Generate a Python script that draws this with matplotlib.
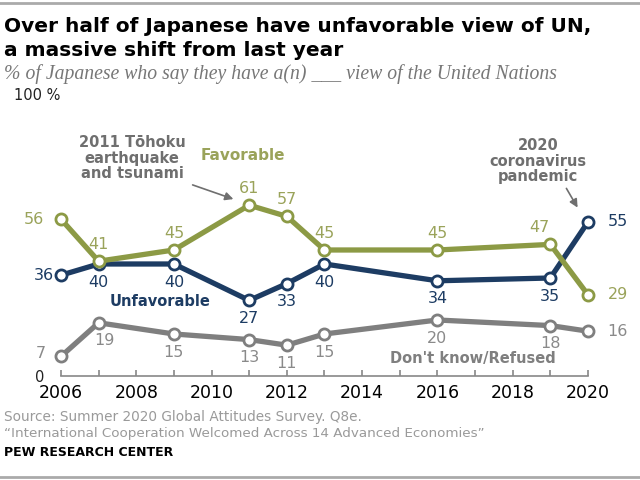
import matplotlib
matplotlib.use("Agg")
import matplotlib.pyplot as plt
from matplotlib.ticker import MultipleLocator

years = [2006, 2007, 2009, 2011, 2012, 2013, 2016, 2019, 2020]
favorable = [56, 41, 45, 61, 57, 45, 45, 47, 29]
unfavorable = [36, 40, 40, 27, 33, 40, 34, 35, 55]
dontknow = [7, 19, 15, 13, 11, 15, 20, 18, 16]
xticks = [2006, 2008, 2010, 2012, 2014, 2016, 2018, 2020]

C_FAV = "#8c9a45"
C_FAV_T = "#9aa35a"
C_UNF = "#1d3c63"
C_DK = "#7f7f7f"
C_DK_T = "#8a8a8a"

plt.rcParams['font.family'] = ['DejaVu Sans']

fig = plt.figure(figsize=(6.4, 4.8), dpi=100)
ax = fig.add_axes([0.0953, 0.2167, 0.8234, 0.5833])

for vals, col in [(dontknow, C_DK), (unfavorable, C_UNF), (favorable, C_FAV)]:
    ax.plot(years, vals, color=col, lw=3.8, marker='o', ms=8, mfc='white',
            mec=col, mew=2, clip_on=False, zorder=3, solid_joinstyle='round')

ax.set_xlim(2006, 2020)
ax.set_ylim(0, 100)
for s in ['top', 'right', 'left']:
    ax.spines[s].set_visible(False)
ax.spines['bottom'].set_color('#888888')
ax.spines['bottom'].set_linewidth(1.2)
ax.set_xticks(xticks)
ax.xaxis.set_minor_locator(MultipleLocator(1))
ax.tick_params(axis='x', which='both', direction='in', length=4, color='#888888',
               width=1.2, labelsize=12.5, pad=6)
ax.set_yticks([])
ax.set_facecolor('none')

def lab(x, y, txt, dx, dy, col, ha='center'):
    ax.annotate(txt, (x, y), xytext=(dx, dy), textcoords='offset points',
                ha=ha, va='center', color=col, fontsize=11.5, zorder=4,
                annotation_clip=False)

fav_off = [(-12, 0, 'right'), (0, 12, 'center'), (0, 12, 'center'), (0, 12, 'center'),
           (0, 12, 'center'), (0, 12, 'center'), (0, 12, 'center'), (-8, 12, 'center'),
           (14, 0, 'left')]
for x, y, (dx, dy, ha) in zip(years, favorable, fav_off):
    lab(x, y, str(y), dx, dy, C_FAV_T, ha)
unf_off = [(-5, 0, 'right'), (0, -13, 'center'), (0, -13, 'center'), (0, -13, 'center'),
           (0, -13, 'center'), (0, -13, 'center'), (0, -13, 'center'), (0, -13, 'center'),
           (14, 0, 'left')]
for x, y, (dx, dy, ha) in zip(years, unfavorable, unf_off):
    lab(x, y, str(y), dx, dy, C_UNF, ha)
dk_off = [(-11, 2, 'right'), (4, -13, 'center'), (0, -13, 'center'), (0, -13, 'center'),
          (0, -13, 'center'), (0, -13, 'center'), (0, -13, 'center'), (0, -13, 'center'),
          (14, 0, 'left')]
for x, y, (dx, dy, ha) in zip(years, dontknow, dk_off):
    lab(x, y, str(y), dx, dy, C_DK_T, ha)

# series names
fig.text(243/640, 1-156/480, "Favorable", color=C_FAV_T, fontsize=11, fontweight='bold',
         ha='center', va='center')
fig.text(160/640, 1-302/480, "Unfavorable", color=C_UNF, fontsize=10.5, fontweight='bold',
         ha='center', va='center')
fig.text(473/640, 1-358/480, "Don't know/Refused", color=C_DK, fontsize=10.5,
         fontweight='bold', ha='center', va='center')

# event annotations
fig.text(132/640, 1-158/480, "2011 Tōhoku\nearthquake\nand tsunami", color='#6f6f6f',
         fontsize=10.5, fontweight='bold', ha='center', va='center', linespacing=1.05)
fig.text(538/640, 1-161/480, "2020\ncoronavirus\npandemic", color='#6f6f6f',
         fontsize=10.5, fontweight='bold', ha='center', va='center', linespacing=1.05)
fig.add_artist(matplotlib.patches.FancyArrowPatch((190/640, 1-184/480), (236/640, 1-200/480),
               transform=fig.transFigure, arrowstyle='-|>', mutation_scale=12,
               color='#6f6f6f', lw=1.2))
fig.add_artist(matplotlib.patches.FancyArrowPatch((565/640, 1-186/480), (579/640, 1-210/480),
               transform=fig.transFigure, arrowstyle='-|>', mutation_scale=12,
               color='#6f6f6f', lw=1.2))

# y-axis end labels
fig.text(14/640, 1-95/480, "100 %", fontsize=10.5, ha='left', va='center', color='#222222')
fig.text(40/640, 1-377/480, "0", fontsize=10.5, ha='center', va='center', color='#222222')

# titles
fig.text(4/640, 1-27/480, "Over half of Japanese have unfavorable view of UN,", fontsize=14.5,
         fontweight='bold', ha='left', va='center', color='black')
fig.text(4/640, 1-50/480, "a massive shift from last year", fontsize=14.5,
         fontweight='bold', ha='left', va='center', color='black')
fig.text(4/640, 1-74/480, "% of Japanese who say they have a(n) ___ view of the United Nations",
         fontsize=14.2, style='italic', family=['Liberation Serif', 'DejaVu Serif'],
         ha='left', va='center', color='#777777')

# footer
fig.text(4/640, 1-417/480, "Source: Summer 2020 Global Attitudes Survey. Q8e.", fontsize=9.8,
         ha='left', va='center', color='#9a9a9a')
fig.text(4/640, 1-433/480, "\u201cInternational Cooperation Welcomed Across 14 Advanced Economies\u201d",
         fontsize=9.7, ha='left', va='center', color='#9a9a9a')
fig.text(4/640, 1-453/480, "PEW RESEARCH CENTER", fontsize=9.0, fontweight='bold',
         ha='left', va='center', color='black')

# frame bars
fig.add_artist(matplotlib.lines.Line2D([0, 1], [1-3/480, 1-3/480], transform=fig.transFigure,
               color='#aaaaaa', lw=2))
fig.add_artist(matplotlib.lines.Line2D([0, 1], [1-477/480, 1-477/480], transform=fig.transFigure,
               color='#aaaaaa', lw=2))

fig.savefig("out.png", dpi=100, facecolor='white')
